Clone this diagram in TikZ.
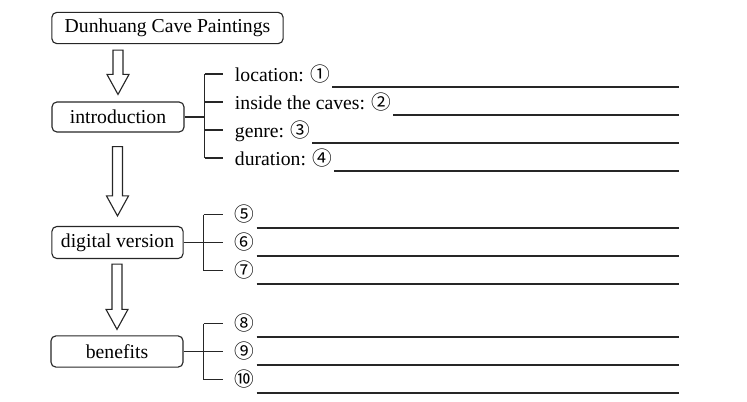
\documentclass[tikz,border=0pt]{standalone}
\usepackage{fontspec}
\setmainfont{Liberation Serif}
\newfontfamily\circfont{Noto Sans CJK SC}
\usetikzlibrary{positioning,calc}

% hollow down arrow from (#1) to its tip (#2)
\newcommand{\hollowarrow}[2]{%
  \draw[hollow] ($(#1)+(-5,0)$) -- ($(#2)+(-5,-20)$) -- ($(#2)+(-11,-20)$) -- (#2)
    -- ($(#2)+(11,-20)$) -- ($(#2)+(5,-20)$) -- ($(#1)+(5,0)$) -- cycle;}
\newcommand{\blanknum}[1]{{\circfont #1}}

\begin{document}
\begin{tikzpicture}[
    x=0.025cm, y=-0.025cm,
    font=\fontsize{14}{16}\selectfont,
    line width=0.8pt, draw=black!85,
    box/.style={draw=black!85, rounded corners=3.5pt, minimum height=0.78cm, inner sep=0pt},
    hollow/.style={draw=black!85, line join=miter},
    blank/.style={anchor=base west, inner sep=1pt}
]
\useasboundingbox (0,0) rectangle (747,401);

% boxes
\node[box, minimum width=5.78cm] (title) at (167.5,28) {Dunhuang Cave Paintings};
\node[box, minimum width=3.3cm, minimum height=0.75cm] (intro) at (118,117) {introduction};
\node[box, minimum width=3.28cm, minimum height=0.8cm] (digital) at (117.5,242.5) {digital version};
\node[box, minimum width=3.3cm, minimum height=0.78cm] (benefit) at (117,351.5) {benefits};

% arrows between the boxes
\coordinate (a1s) at ($(intro.north |- title.south)+(0,6)$);
\coordinate (a1t) at ($(intro.north)+(0,-7)$);
\hollowarrow{a1s}{a1t}
\coordinate (a2s) at ($(digital.north |- intro.south)+(0,14)$);
\coordinate (a2t) at ($(digital.north)+(0,-10)$);
\hollowarrow{a2s}{a2t}
\coordinate (a3s) at ($(benefit.north |- digital.south)+(0,5)$);
\coordinate (a3t) at ($(benefit.north)+(0,-6)$);
\hollowarrow{a3s}{a3t}

\coordinate (rim) at (679,0);

% introduction
\draw (intro.east) -- ++(20,0) coordinate (j1);
\foreach \i/\y/\txt in {1/74/{location: \blanknum{①}}, 2/102/{inside the caves: \blanknum{②}},
                        3/130/{genre: \blanknum{③}}, 4/158/{duration: \blanknum{④}}} {
  \coordinate (t\i) at (223,\y);
  \node[blank] (l\i) at ($(t\i)+(10,7)$) {\txt};
  \draw (j1 |- t\i) -- (t\i);
  \draw ($(l\i.base east)+(0,6)$) coordinate (u\i) -- (u\i -| rim);
}
\draw (j1 |- t1) -- (j1 |- t4);

% digital version
\draw (digital.east) -- ++(20,0) coordinate (j2);
\foreach \i/\y/\txt in {5/214.5/⑤, 6/242.5/⑥, 7/270.5/⑦} {
  \coordinate (t\i) at (223,\y);
  \node[blank] (l\i) at ($(t\i)+(10,7)$) {\blanknum{\txt}};
  \draw (j2 |- t\i) -- (t\i);
  \draw ($(l\i.base east)+(0,6.5)$) coordinate (u\i) -- (u\i -| rim);
}
\draw (j2 |- t5) -- (j2 |- t7);

% benefits
\draw (benefit.east) -- ++(20,0) coordinate (j3);
\foreach \i/\y/\txt in {8/323.5/⑧, 9/351.5/⑨, 10/379.5/⑩} {
  \coordinate (t\i) at (223,\y);
  \node[blank] (l\i) at ($(t\i)+(10,7)$) {\blanknum{\txt}};
  \draw (j3 |- t\i) -- (t\i);
  \draw ($(l\i.base east)+(0,6.5)$) coordinate (u\i) -- (u\i -| rim);
}
\draw (j3 |- t8) -- (j3 |- t10);
\end{tikzpicture}
\end{document}
